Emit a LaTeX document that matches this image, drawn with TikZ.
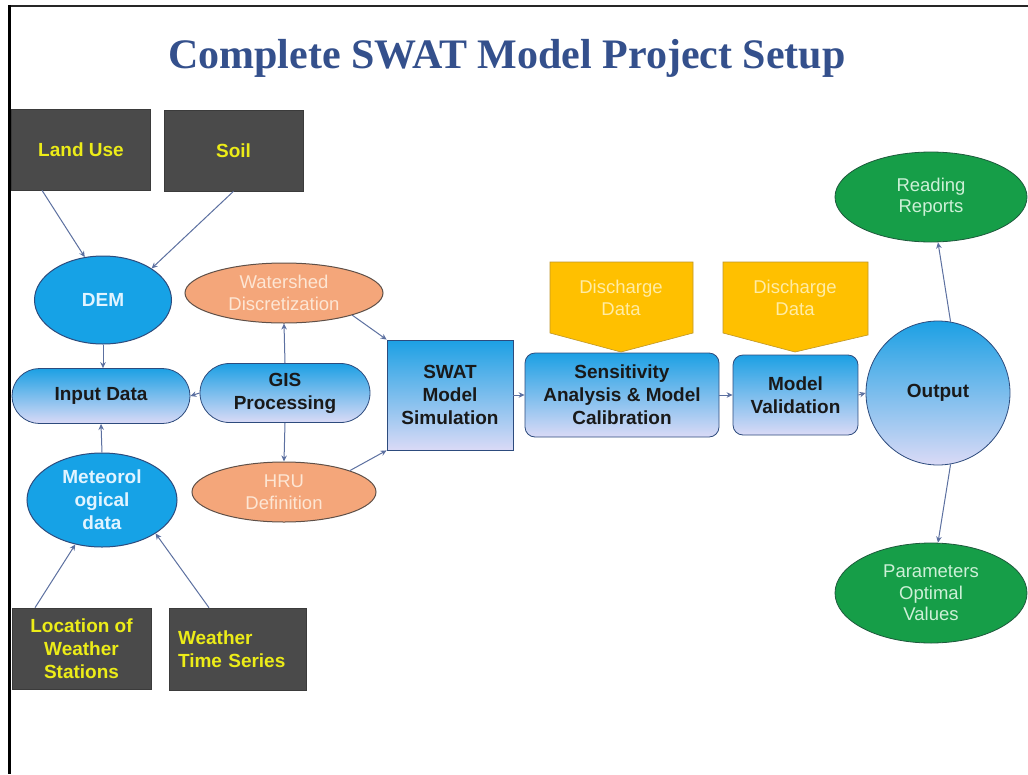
\documentclass[tikz,border=0pt]{standalone}
\usepackage{fontspec}
\setmainfont{Liberation Sans}
\newfontfamily\titlefont{Liberation Serif}
\usetikzlibrary{shapes.geometric,shapes.misc,arrows.meta}

\definecolor{titleblue}{RGB}{52,80,140}
\definecolor{darkbox}{RGB}{74,74,74}
\definecolor{boxtext}{RGB}{236,236,24}
\definecolor{skyfill}{RGB}{22,162,230}
\definecolor{navyline}{RGB}{45,75,125}
\definecolor{skytext}{RGB}{225,244,255}
\definecolor{salmonfill}{RGB}{244,166,122}
\definecolor{salmonline}{RGB}{95,80,72}
\definecolor{salmontext}{RGB}{253,230,212}
\definecolor{greenfill}{RGB}{22,158,72}
\definecolor{greenline}{RGB}{30,90,60}
\definecolor{greentext}{RGB}{205,240,215}
\definecolor{amberfill}{RGB}{255,192,0}
\definecolor{amberline}{RGB}{190,150,40}
\definecolor{ambertext}{RGB}{255,236,165}
\definecolor{gradtop}{RGB}{28,160,228}
\definecolor{gradmid}{RGB}{160,198,242}
\definecolor{gradbot}{RGB}{218,218,246}
\definecolor{arrowcol}{RGB}{92,112,160}

\tikzset{
  boldtxt/.style={font=\fontsize{19}{23}\selectfont\bfseries},
  plaintxt/.style={font=\fontsize{18.5}{21.5}\selectfont},
  darkrect/.style={rectangle, fill=darkbox, draw=darkbox!80!black, line width=0.6pt,
    text=boxtext, boldtxt, align=center, inner sep=0pt},
  blueoval/.style={ellipse, fill=skyfill, draw=navyline, line width=1pt,
    text=skytext, boldtxt, align=center, inner sep=0pt},
  salmonoval/.style={ellipse, fill=salmonfill, draw=salmonline, line width=1pt,
    text=salmontext, plaintxt, align=center, inner sep=0pt},
  greenoval/.style={ellipse, fill=greenfill, draw=greenline, line width=0.8pt,
    text=greentext, plaintxt, align=center, inner sep=0pt},
  gradbox/.style={draw=navyline, line width=0.8pt, top color=gradtop,
    middle color=gradmid, bottom color=gradbot, text=black!90, boldtxt,
    align=center, inner sep=0pt},
  pillbox/.style={gradbox, rounded rectangle},
  roundbox/.style={gradbox, rectangle, rounded corners=10pt},
  squarebox/.style={gradbox, rectangle},
  amberflag/.style={fill=amberfill, draw=amberline, line width=0.6pt},
  flagtxt/.style={text=ambertext, plaintxt, align=center, inner sep=0pt},
  link/.style={draw=arrowcol, line width=1pt,
    -{Stealth[length=6pt,width=5.5pt]}},
}

\begin{document}
\begin{tikzpicture}[x=1pt,y=-1pt]
\useasboundingbox (0,0) rectangle (1028,774);
\fill[white] (0,0) rectangle (1028,774);

% frame lines
\draw[line width=2.5pt, black!85] (9,6) -- (1028,6);
\draw[line width=3pt, black] (9,5) -- (9,774);

% title
\node[font=\titlefont\bfseries\fontsize{42}{46}\selectfont, text=titleblue] (title)
  at (507,58) {Complete SWAT Model Project Setup};

% source data boxes
\node[darkrect, minimum width=139pt, minimum height=81pt] (land) at (81,149.5) {Land Use};
\node[darkrect, minimum width=139pt, minimum height=81pt] (soil) at (233.5,150.5) {Soil};
\node[darkrect, minimum width=139pt, minimum height=81pt] (loc) at (81.5,648.5)
  {Location of\\Weather\\Stations};
\node[darkrect, minimum width=137pt, minimum height=82pt, text width=119pt,
  align=left, inner xsep=9pt] (wts) at (237.5,649) {Weather\\Time Series};

% ovals
\node[blueoval, minimum width=137pt, minimum height=88pt] (dem) at (103,300) {DEM};
\node[blueoval, minimum width=150pt, minimum height=94pt] (met) at (102,500)
  {Meteorol\\ogical\\data};
\node[salmonoval, minimum width=198pt, minimum height=60pt] (ws) at (284,293)
  {Watershed\\Discretization};
\node[salmonoval, minimum width=184pt, minimum height=60pt] (hru) at (284,492)
  {HRU\\Definition};

% processing boxes
\node[pillbox, minimum width=178pt, minimum height=55pt] (input) at (101,396) {Input Data};
\node[pillbox, minimum width=170pt, minimum height=59pt] (gis) at (285,393) {GIS\\Processing};
\node[squarebox, minimum width=126pt, minimum height=110pt] (swat) at (450,395)
  {SWAT\\Model\\Simulation};
\node[roundbox, minimum width=194pt, minimum height=84pt] (sens) at (622,395)
  {Sensitivity\\Analysis \& Model\\Calibration};

% discharge flags
\path[amberflag] (550,262) -- (693,262) -- (693,333) -- (621,352) -- (550,333) -- cycle;
\node[flagtxt] (dis1) at (621,298) {Discharge\\Data};
\path[amberflag] (723,262) -- (868,262) -- (868,335) -- (795,352) -- (723,333) -- cycle;
\node[flagtxt] (dis2) at (795,298) {Discharge\\Data};

\node[roundbox, minimum width=125pt, minimum height=80pt] (val) at (795.5,395)
  {Model\\Validation};
\node[gradbox, circle, minimum size=144pt] (out) at (938,393) {Output};

% results
\node[greenoval, minimum width=192pt, minimum height=90pt] (read) at (931,197)
  {Reading\\Reports};
\node[greenoval, minimum width=192pt, minimum height=100pt] (par) at (931,593)
  {Parameters\\Optimal\\Values};

% connectors
\draw[link] ([xshift=-39pt]land.south) -- (dem.113);
\draw[link] (soil.south) -- (dem.33);
\draw[link] (dem.south) -- (dem.south |- input.north);
\draw[link] (met.north) -- (input.south);
\draw[link] ([xshift=-46.5pt]loc.north) -- (met.-121);
\draw[link] ([xshift=-28.5pt]wts.north) -- (met.-32);
\draw[link] (gis.west) -- (input.east);
\draw[link] (gis.north) -- (ws.south);
\draw[link] (gis.south) -- (hru.north);
\draw[link] (ws.-18) -- (swat.north west);
\draw[link] (hru.18) -- (swat.south west);
\draw[link] (swat.east) -- (sens.west);
\draw[link] (sens.east) -- (val.west);
\draw[link] (val.east) -- (out.west);
\draw[link] (out.80) -- ([xshift=7pt]read.south);
\draw[link] (out.-80) -- ([xshift=7pt]par.north);
\end{tikzpicture}
\end{document}
